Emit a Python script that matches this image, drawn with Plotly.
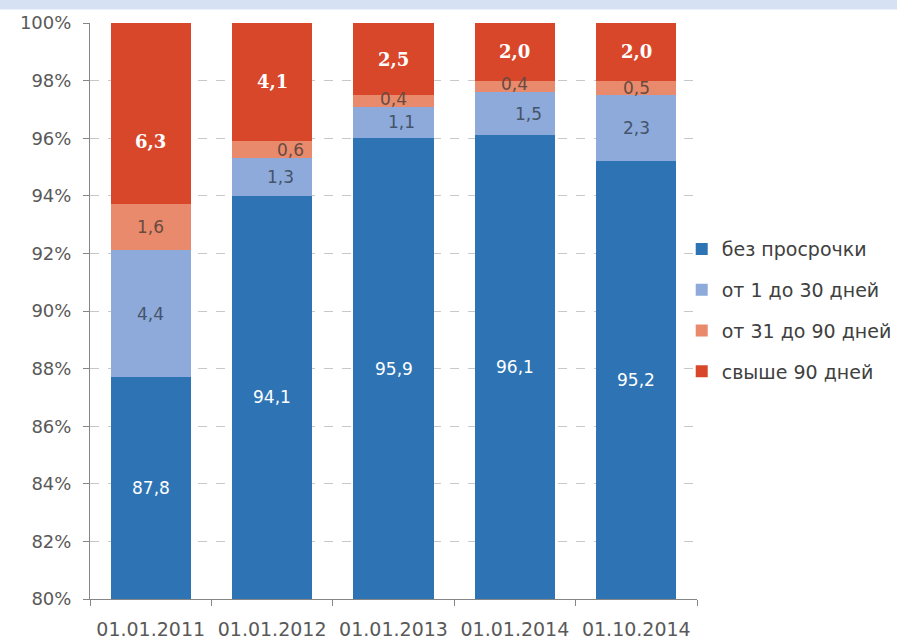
import plotly.graph_objects as go

categories = ["01.01.2011", "01.01.2012", "01.01.2013", "01.01.2014", "01.10.2014"]
no_overdue = [87.8, 94.1, 95.9, 96.1, 95.2]
d1_30 = [4.4, 1.3, 1.1, 1.5, 2.3]
d31_90 = [1.6, 0.6, 0.4, 0.4, 0.5]
over90 = [6.3, 4.1, 2.5, 2.0, 2.0]
series_names = ["без просрочки", "от 1 до 30 дней", "от 31 до 90 дней", "свыше 90 дней"]
series_values = [no_overdue, d1_30, d31_90, over90]
y_ticks = [80, 82, 84, 86, 88, 90, 92, 94, 96, 98, 100]

colors = ["#2E74B5", "#8EAADB", "#E98A6C", "#D9472B"]
label_colors = ["#FFFFFF", "#44546A", "#6A4A40", "#FFFFFF"]

def fmt(v):
    return f"{v:.1f}".replace(".", ",")

fig = go.Figure()
for i, (name, vals) in enumerate(zip(series_names, series_values)):
    fig.add_trace(go.Bar(
        x=categories, y=vals, name=name, marker=dict(color=colors[i], line=dict(width=0)),
        legendgroup=name, hoverinfo="skip",
    ))

# labels at segment centres (normalised to 100%)
annotations = []
for j, cat in enumerate(categories):
    total = sum(s[j] for s in series_values)
    base = 0.0
    for i, vals in enumerate(series_values):
        v = vals[j] * 100.0 / total
        lo, hi = base, base + v
        base = hi
        lo_vis = max(lo, 80.0)
        yc = (lo_vis + hi) / 2
        bold = i == 3
        xs = 0
        ys = 0
        if i == 1 and j in (1, 2, 3):
            xs = 8 if j != 3 else 14
        if i == 2 and j == 1:
            xs = 18
        if i == 2 and j in (2, 3):
            ys = 2
        if i == 3 and j == 0:
            ys = -28
        annotations.append(dict(
            x=cat, y=yc, xref="x", yref="y", text=("<b>%s</b>" % fmt(vals[j])) if bold else fmt(vals[j]),
            showarrow=False, xshift=xs, yshift=ys,
            font=dict(family="DejaVu Serif" if bold else "DejaVu Sans", size=18 if bold else 17,
                      color=label_colors[i]),
        ))

fig.update_layout(
    width=897, height=643,
    margin=dict(l=90, r=200, t=23, b=44, autoexpand=False),
    paper_bgcolor="white", plot_bgcolor="white",
    barmode="stack", barnorm="percent", bargap=0.34,
    font=dict(family="DejaVu Sans", color="#595959"),
    showlegend=True,
    legend=dict(x=0.760, y=0.642, xref="container", yref="container", xanchor="left", yanchor="top",
                traceorder="grouped", tracegroupgap=13,
                font=dict(size=19, color="#404040", family="DejaVu Sans"),
                itemwidth=30, bgcolor="rgba(0,0,0,0)"),
    annotations=annotations,
    shapes=[dict(type="rect", xref="paper", yref="paper", x0=-0.3, x1=1.5,
                 y0=1 + 13.5 / 576, y1=1 + 40 / 576, fillcolor="#D6E2F3", line=dict(width=0), layer="below")],
)
fig.update_xaxes(
    type="category", showline=True, linecolor="#868686", linewidth=1, automargin=False,
    ticks="outside", tickson="boundaries", ticklen=6, tickcolor="#868686",
    tickfont=dict(size=19, color="#595959"), showgrid=False, ticklabelstandoff=13,
)
fig.update_yaxes(
    range=[80, 100], tickvals=y_ticks, ticktext=[f"{t}%" for t in y_ticks], automargin=False,
    showline=True, linecolor="#868686", linewidth=1, ticks="outside", ticklen=6, tickcolor="#868686",
    tickfont=dict(size=18, color="#595959"), ticklabelstandoff=8,
    showgrid=True, gridcolor="#C8C8C8", griddash="dash", gridwidth=1, zeroline=False,
)
fig.write_html("out.html", config={"displayModeBar": False},
               post_script="document.body.style.margin='0';")
